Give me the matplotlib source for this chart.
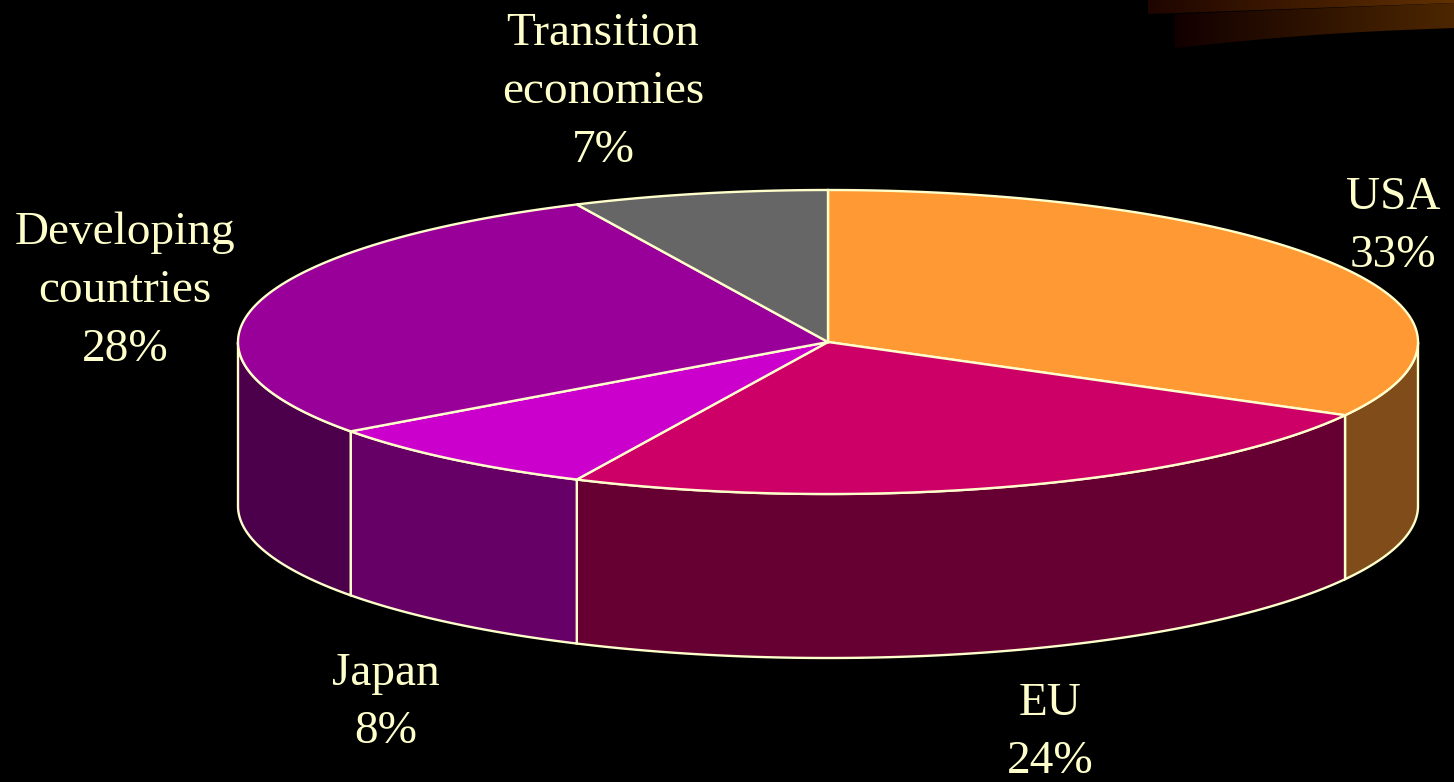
import numpy as np
import matplotlib
matplotlib.use('Agg')
import matplotlib.pyplot as plt
from matplotlib.patches import Polygon

# slices, clockwise from 12 o'clock
labels = ['USA', 'EU', 'Japan', 'Developing\ncountries', 'Transition\neconomies']
shares = [33, 24, 8, 28, 7]
top_colors = ['#FF9933', '#CC0066', '#CC00CC', '#990099', '#666666']
side_colors = ['#804C19', '#660033', '#660066', '#4C004C', '#333333']
label_pos = [(1393, 227), (1050, 733), (386, 703), (125, 291), (603, 92)]

W, H = 1454, 782
cx, cy = 828, 342
a, b = 590, 152
depth = 164
edge = '#FFFFCC'

fig = plt.figure(figsize=(W / 100, H / 100), dpi=100)
fig.patch.set_facecolor('black')
ax = fig.add_axes([0, 0, 1, 1])
ax.set_xlim(0, W)
ax.set_ylim(H, 0)
ax.axis('off')
ax.set_facecolor('black')


def ell(t, dy=0):
    t = np.radians(t)
    return np.column_stack([cx + a * np.cos(t), cy - b * np.sin(t) + dy])


# decorative swoosh in the top right corner
grad = np.linspace(0, 1, 256)[None, :]
for top, bot, bulge, c0, c1 in [([(1148, 0), (1454, 0)], [(1454, 3), (1148, 14)], 0, (0.12, 0.02, 0.0), (0.38, 0.19, 0.0)),
                                ([(1175, 14), (1454, 3)], [(1454, 28), (1175, 48)], 3, (0.07, 0.0, 0.0), (0.30, 0.15, 0.0))]:
    xs = np.linspace(top[0][0], top[1][0], 40)
    ytop = np.interp(xs, [top[0][0], top[1][0]], [top[0][1], top[1][1]])
    ybot = np.interp(xs, [bot[1][0], bot[0][0]], [bot[1][1], bot[0][1]])
    ybot = ybot - bulge * np.sin(np.linspace(0, np.pi, 40))
    pts = np.vstack([np.column_stack([xs, ytop]), np.column_stack([xs[::-1], ybot[::-1]])])
    poly = Polygon(pts, closed=True, facecolor='none', edgecolor='none')
    ax.add_patch(poly)
    cmap = matplotlib.colors.LinearSegmentedColormap.from_list('g', [c0, c1])
    im = ax.imshow(grad, cmap=cmap, extent=[xs[0], xs[-1], 50, 0], aspect='auto', zorder=0)
    im.set_clip_path(poly)

# angles of slice boundaries (degrees, counter-clockwise from +x)
bounds = 90 - np.cumsum([0] + shares) * 3.6

# side walls (front half only)
for i in range(len(shares)):
    t1, t2 = bounds[i + 1], bounds[i]
    for lo, hi in [(-180, 0), (180, 360), (-540, -360)]:
        s, e = max(t1, lo), min(t2, hi)
        if e > s:
            t = np.linspace(s, e, 200)
            pts = np.vstack([ell(t), ell(t[::-1], depth)])
            ax.add_patch(Polygon(pts, closed=True, facecolor=side_colors[i],
                                 edgecolor=edge, linewidth=1.7, zorder=2))

# top wedges
for i in range(len(shares)):
    t = np.linspace(bounds[i + 1], bounds[i], 300)
    pts = np.vstack([[cx, cy], ell(t)])
    ax.add_patch(Polygon(pts, closed=True, facecolor=top_colors[i],
                         edgecolor=edge, linewidth=1.7, zorder=3))

# labels
for lab, v, (x, y) in zip(labels, shares, label_pos):
    ax.text(x, y, f'{lab}\n{v}%', ha='center', va='center', color=edge,
            fontsize=34, family='Liberation Serif', linespacing=1.49, zorder=5)

fig.savefig('out.png', dpi=100, facecolor='black')
